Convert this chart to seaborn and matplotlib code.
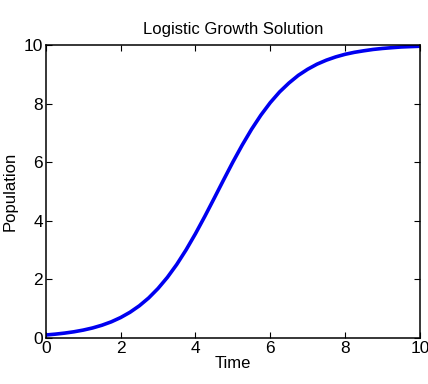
import matplotlib
matplotlib.use("Agg")
import matplotlib.pyplot as plt
import seaborn as sns
import pandas as pd

time = [0.0, 0.25, 0.5, 0.75, 1.0, 1.25, 1.5, 1.75, 2.0, 2.25, 2.5, 2.75,
        3.0, 3.25, 3.5, 3.75, 4.0, 4.25, 4.5, 4.75, 5.0, 5.25, 5.5, 5.75,
        6.0, 6.25, 6.5, 6.75, 7.0, 7.25, 7.5, 7.75, 8.0, 8.25, 8.5, 8.75,
        9.0, 9.25, 9.5, 9.75, 10.0]
population = [0.10, 0.128, 0.164, 0.209, 0.267, 0.340, 0.433, 0.549, 0.695, 0.875,
              1.096, 1.364, 1.687, 2.067, 2.506, 3.005, 3.555, 4.146, 4.762, 5.386,
              6.00, 6.581, 7.12, 7.604, 8.03, 8.396, 8.70, 8.961, 9.17, 9.343,
              9.48, 9.591, 9.68, 9.748, 9.80, 9.846, 9.88, 9.906, 9.93, 9.943, 9.955]
xticks = [0, 2, 4, 6, 8, 10]
yticks = [0, 2, 4, 6, 8, 10]

sns.set_theme(style="ticks")
plt.rcParams['font.family'] = ['Liberation Sans', 'DejaVu Sans']
plt.rcParams['text.color'] = 'black'
plt.rcParams['axes.labelcolor'] = 'black'

df = pd.DataFrame({"Time": time, "Population": population})
fig = plt.figure(figsize=(4.28, 3.84), dpi=100)
ax = fig.add_axes([0.107, 0.12, 0.874, 0.763])
sns.lineplot(data=df, x="Time", y="Population", ax=ax, color="#0000f0", linewidth=2.6)
ax.set_xlim(0, 10)
ax.set_ylim(0, 10)
ax.set_xticks(xticks)
ax.set_yticks(yticks)
ax.tick_params(direction="in", top=True, right=True, length=4, width=0.8,
               labelsize=12.5, colors="black", pad=2)
for s in ax.spines.values():
    s.set_visible(True)
    s.set_color("black")
    s.set_linewidth(1.1)
ax.set_xlabel("Time", fontsize=12, labelpad=0, color="black")
ax.set_ylabel("Population", fontsize=12, labelpad=4, color="black")
ax.set_title("Logistic Growth Solution", fontsize=12, pad=8, color="black")
fig.savefig("out.png", dpi=100)
